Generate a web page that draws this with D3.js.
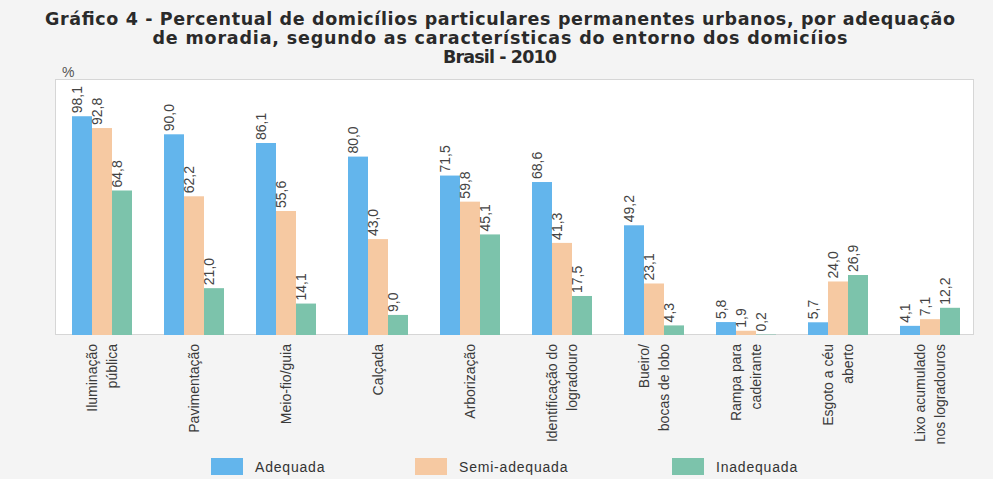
<!DOCTYPE html>
<html>
<head>
<meta charset="utf-8">
<title>Gráfico 4</title>
<script src="https://cdn.jsdelivr.net/npm/d3@7"></script>
<style>
  body { margin: 0; background: #f4f4f4; }
  svg { display: block; font-family: "Liberation Sans", Arial, sans-serif; }
  .title { font-family: "DejaVu Sans", "Liberation Sans", sans-serif; font-weight: bold; font-size: 17.5px; fill: #2a2a2a; }
  .val { font-family: "Liberation Sans Narrow", "Arial Narrow", "Liberation Sans", sans-serif; font-size: 14px; fill: #444; }
  .cat { font-size: 14px; fill: #3a3a3a; }
  .leg { font-size: 14px; fill: #333; letter-spacing: 0.8px; }
</style>
</head>
<body>
<svg width="993" height="479"></svg>
<script>
  // categorias (quebras de linha com \n)
  var categories = [
    "Iluminação\npública", "Pavimentação", "Meio-fio/guia", "Calçada", "Arborização",
    "Identificação do\nlogradouro", "Bueiro/\nbocas de lobo", "Rampa para\ncadeirante",
    "Esgoto a céu\naberto", "Lixo acumulado\nnos logradouros"
  ];
  var seriesNames = ["Adequada", "Semi-adequada", "Inadequada"];
  var adequada = [98.1, 90.0, 86.1, 80.0, 71.5, 68.6, 49.2, 5.8, 5.7, 4.1];
  var semiAdequada = [92.8, 62.2, 55.6, 43.0, 59.8, 41.3, 23.1, 1.9, 24.0, 7.1];
  var inadequada = [64.8, 21.0, 14.1, 9.0, 45.1, 17.5, 4.3, 0.2, 26.9, 12.2];
  var titleLines = [
    "Gráfico 4 - Percentual de domicílios particulares permanentes urbanos, por adequação",
    "de moradia, segundo as características do entorno dos domicíios",
    "Brasil - 2010"
  ];
  // largura de cada linha do titulo (fonte larga no original)
  var titleWidths = [910, 695, 114];

  var colors = ["#63b5ec", "#f6c9a2", "#7cc3ab"];
  var series = [adequada, semiAdequada, inadequada];

  var svg = d3.select("svg");

  // titulo
  svg.selectAll("text.title")
    .data(titleLines)
    .enter()
    .append("text")
    .attr("class", "title")
    .attr("x", 500)
    .attr("y", function(d, i) { return 25 + i * 19; })
    .attr("text-anchor", "middle")
    .attr("textLength", function(d, i) { return titleWidths[i]; })
    .attr("lengthAdjust", "spacing")
    .text(function(d) { return d; });

  svg.append("text")
    .attr("x", 62).attr("y", 77)
    .style("font-size", "14px").style("fill", "#555")
    .text("%");

  // area do grafico
  svg.append("rect")
    .attr("x", 55.5).attr("y", 79.5)
    .attr("width", 918).attr("height", 255)
    .attr("fill", "#ffffff")
    .attr("stroke", "#d6d6d6");

  var p = 32 / 92;
  var x0 = d3.scaleBand()
    .domain(d3.range(categories.length))
    .range([56, 976])
    .paddingInner(p)
    .paddingOuter(p / 2);

  var x1 = d3.scaleBand()
    .domain(d3.range(series.length))
    .range([0, x0.bandwidth()]);

  var y = d3.scaleLinear()
    .domain([0, 100])
    .range([335, 112]);

  var groups = svg.selectAll("g.grp")
    .data(categories)
    .enter()
    .append("g")
    .attr("class", "grp")
    .attr("transform", function(d, i) { return "translate(" + x0(i) + ",0)"; });

  groups.selectAll("rect")
    .data(function(d, i) { return series.map(function(s, k) { return { k: k, v: s[i] }; }); })
    .enter()
    .append("rect")
    .attr("x", function(d) { return x1(d.k); })
    .attr("width", x1.bandwidth())
    .attr("y", function(d) { return y(d.v); })
    .attr("height", function(d) { return y(0) - y(d.v); })
    .attr("fill", function(d) { return colors[d.k]; });

  groups.selectAll("text.val")
    .data(function(d, i) { return series.map(function(s, k) { return { k: k, v: s[i] }; }); })
    .enter()
    .append("text")
    .attr("class", "val")
    .attr("transform", function(d) {
      return "translate(" + (x1(d.k) + x1.bandwidth() / 2) + "," + (y(d.v) - 3) + ") rotate(-90)";
    })
    .text(function(d) { return d3.format(".1f")(d.v).replace(".", ","); });

  // rotulos do eixo x
  var lbl = svg.selectAll("text.cat")
    .data(categories)
    .enter()
    .append("text")
    .attr("class", "cat")
    .attr("text-anchor", "end")
    .attr("transform", function(d, i) {
      return "translate(" + (x0(i) + x0.bandwidth() / 2) + ",344) rotate(-90)";
    });

  lbl.selectAll("tspan")
    .data(function(d) {
      var lines = d.split("\n");
      return lines.map(function(t, j) { return { t: t, off: 5 + (j - (lines.length - 1) / 2) * 20 }; });
    })
    .enter()
    .append("tspan")
    .attr("x", 0)
    .attr("y", function(d) { return d.off; })
    .text(function(d) { return d.t; });

  // legenda
  var legX = [211, 415, 672];
  var leg = svg.selectAll("g.leg")
    .data(seriesNames)
    .enter()
    .append("g")
    .attr("transform", function(d, i) { return "translate(" + legX[i] + ",458)"; });

  leg.append("rect")
    .attr("width", 32).attr("height", 17)
    .attr("fill", function(d, i) { return colors[i]; });

  leg.append("text")
    .attr("class", "leg")
    .attr("x", 44).attr("y", 14)
    .text(function(d) { return d; });
</script>
</body>
</html>
